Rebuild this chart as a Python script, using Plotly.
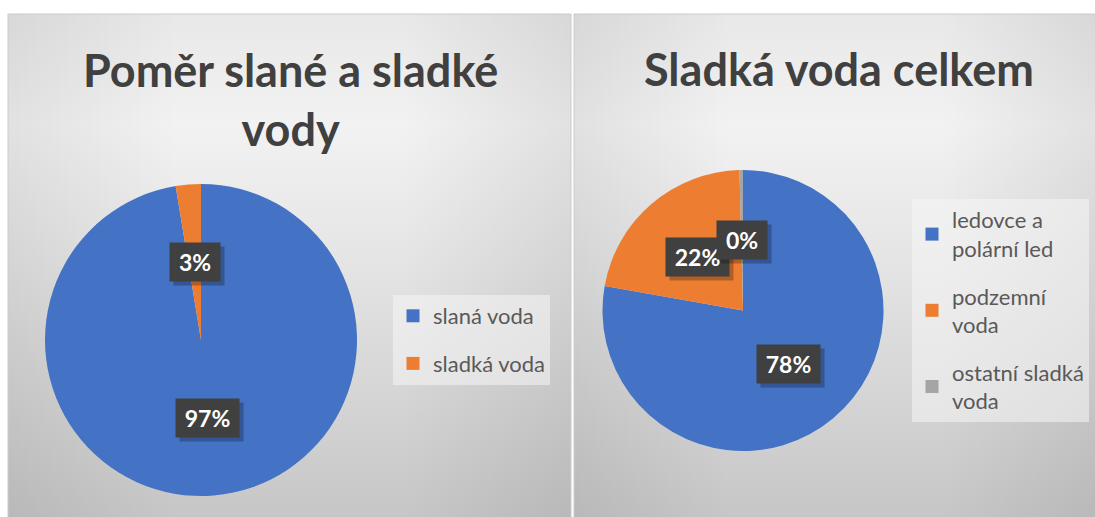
import math
import plotly.graph_objects as go

W, H = 1095, 517

# ---------------- data ----------------
left_title = "Poměr slané a sladké<br>vody"
left_labels = ["slaná voda", "sladká voda"]
left_values = [97.4, 2.6]
left_colors = ["#4472C4", "#ED7D31"]

right_title = "Sladká voda celkem"
right_labels = ["ledovce a polární led", "podzemní voda", "ostatní sladká voda"]
right_legend_text = ["ledovce a<br>polární led", "podzemní<br>voda", "ostatní sladká<br>voda"]
right_values = [77.8, 21.8, 0.4]
right_colors = ["#4472C4", "#ED7D31", "#A5A5A5"]

# ---------------- layout geometry (pixels) ----------------
LEFT_PANEL = (8, 571, 14, 520)
RIGHT_PANEL = (574, 1098, 14, 520)
LEFT_PIE = (201, 340, 156)
RIGHT_PIE = (743, 310.5, 140.5)

FONT = "Lato"

fig = go.Figure()


def panel(x0, x1, y0, y1):
    fig.add_trace(go.Scatter(
        x=[x0, x1, x1, x0, x0], y=[y0, y0, y1, y1, y0], mode="none", fill="toself",
        fillgradient=dict(type="vertical", start=y0, stop=y1,
                          colorscale=[[0, "#e8e8e8"], [0.22, "#f2f2f2"], [0.5, "#e4e4e4"], [1, "#c6c6c6"]]),
        showlegend=False, hoverinfo="skip"))
    fig.add_trace(go.Scatter(
        x=[x0, x1, x1, x0, x0], y=[y0, y0, y1, y1, y0], mode="none", fill="toself",
        fillgradient=dict(type="horizontal", start=x0, stop=x1,
                          colorscale=[[0, "rgba(0,0,0,0.07)"], [0.3, "rgba(0,0,0,0)"],
                                      [0.7, "rgba(0,0,0,0)"], [1, "rgba(0,0,0,0.07)"]]),
        showlegend=False, hoverinfo="skip"))
    fig.add_shape(type="rect", xref="x", yref="y", x0=x0, x1=x1, y0=y0, y1=y1,
                  line=dict(color="#cbcbcb", width=1), fillcolor="rgba(0,0,0,0)", layer="above")


panel(*LEFT_PANEL)
panel(*RIGHT_PANEL)


def dom(cx, cy, r):
    return dict(x=[(cx - r) / W, (cx + r) / W], y=[1 - (cy + r) / H, 1 - (cy - r) / H])


def pie(labels, values, colors, geom):
    fig.add_trace(go.Pie(
        labels=labels, values=values, sort=False, direction="clockwise", rotation=0,
        marker=dict(colors=colors, line=dict(width=0)), textinfo="none",
        hoverinfo="label+percent", showlegend=False, domain=dom(*geom)))


pie(left_labels, left_values, left_colors, LEFT_PIE)
pie(right_labels, right_values, right_colors, RIGHT_PIE)


def data_labels(values, geom):
    cx, cy, r = geom
    total = sum(values)
    cum = 0.0
    for v in values:
        mid = (cum + v / 2) / total * 2 * math.pi
        cum += v
        x = cx + 0.5 * r * math.sin(mid)
        y = cy - 0.5 * r * math.cos(mid)
        txt = f"{round(v / total * 100)}%"
        bw = 13 * len(txt) + 10
        # soft shadow box (no text)
        fig.add_annotation(x=x + 4, y=y + 4, xref="x", yref="y", text="&nbsp;", showarrow=False,
                           width=bw, height=24, bgcolor="rgba(0,0,0,0.25)", borderpad=7,
                           font=dict(family=FONT, size=23, color="rgba(0,0,0,0)"))
        fig.add_annotation(x=x, y=y, xref="x", yref="y", text=txt, showarrow=False,
                           width=bw, height=24, bgcolor="#404040", borderpad=7,
                           font=dict(family=FONT, size=23, color="#ffffff", weight="bold"))


data_labels(left_values, LEFT_PIE)
data_labels(right_values, RIGHT_PIE)

# titles
fig.add_annotation(x=290, y=99, xref="x", yref="y", text=left_title, showarrow=False,
                   font=dict(family=FONT, size=45, color="#404040", weight="bold"))
fig.add_annotation(x=839, y=69, xref="x", yref="y", text=right_title, showarrow=False,
                   font=dict(family=FONT, size=45, color="#404040", weight="bold"))

# legend proxies
for i, (name, color) in enumerate(zip(left_labels, left_colors)):
    fig.add_trace(go.Scatter(x=[None], y=[None], mode="markers", name=name,
                             marker=dict(symbol="square", size=13, color=color),
                             legend="legend", legendgroup=f"l{i}", hoverinfo="skip"))
for i, (name, color) in enumerate(zip(right_legend_text, right_colors)):
    fig.add_trace(go.Scatter(x=[None], y=[None], mode="markers", name=name,
                             marker=dict(symbol="square", size=13, color=color),
                             legend="legend2", legendgroup=f"r{i}", hoverinfo="skip"))

legend_style = dict(xanchor="left", yanchor="top", bgcolor="rgba(246,246,246,0.55)",
                    font=dict(family=FONT, size=22, color="#595959"), tracegroupgap=16,
                    itemclick=False, itemdoubleclick=False)

fig.update_layout(
    width=W, height=H, margin=dict(l=0, r=0, t=0, b=0),
    paper_bgcolor="#ffffff", plot_bgcolor="#ffffff",
    xaxis=dict(range=[0, W], visible=False, fixedrange=True, domain=[0, 1]),
    yaxis=dict(range=[H, 0], visible=False, fixedrange=True, domain=[0, 1]),
    legend=dict(x=393 / W, y=1 - 295 / H, **legend_style),
    legend2=dict(x=912 / W, y=1 - 199 / H, **legend_style),
    showlegend=True,
)

fig.write_html("out.html")
